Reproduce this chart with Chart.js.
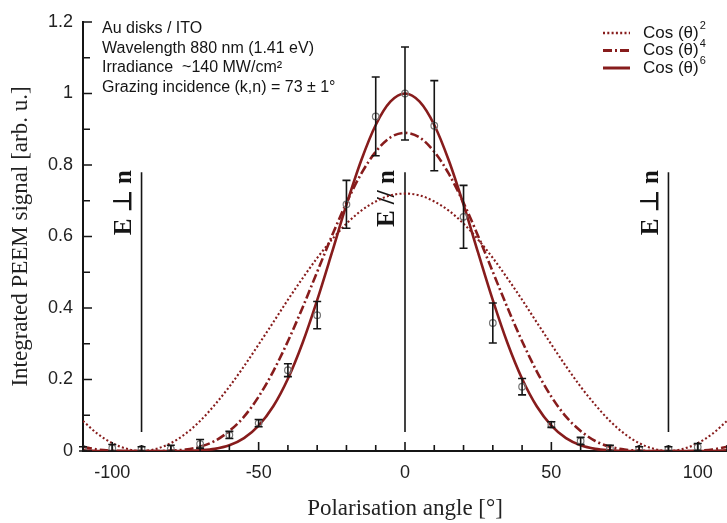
<!DOCTYPE html>
<html>
<head>
<meta charset="utf-8">
<script src="https://cdn.jsdelivr.net/npm/chart.js@4"></script>
<style>
  html, body { margin: 0; padding: 0; background: #fff; }
  canvas { display: block; }
</style>
</head>
<body>
<canvas id="peem" width="727" height="523"></canvas>
<script>
// ── Measured points (angle in deg, integrated signal, error) ─────
const ANGLES = [-110, -100, -90, -80, -70, -60, -50, -40, -30, -20, -10, 0, 10, 20, 30, 40, 50, 60, 70, 80, 90, 100];
const SIGNAL = [0.006, 0.008, 0.006, 0.006, 0.02, 0.045, 0.078, 0.226, 0.38, 0.69, 0.936, 1.0, 0.91, 0.655, 0.358, 0.18, 0.074, 0.028, 0.008, 0.006, 0.006, 0.011];
const ERR    = [0.006, 0.01, 0.006, 0.01, 0.012, 0.01, 0.01, 0.018, 0.038, 0.067, 0.11, 0.13, 0.126, 0.088, 0.056, 0.023, 0.008, 0.01, 0.008, 0.006, 0.006, 0.01];

// ── Fit curves, read every 5 deg from -110 to 110 ────────────────
const CURVE_ANGLES = [-110, -105, -100, -95, -90, -85, -80, -75, -70, -65, -60, -55, -50, -45, -40, -35, -30, -25, -20, -15, -10, -5,
  0, 5, 10, 15, 20, 25, 30, 35, 40, 45, 50, 55, 60, 65, 70, 75, 80, 85, 90, 95, 100, 105, 110];
const COS2 = [0.084, 0.048, 0.022, 0.006, 0, 0.006, 0.022, 0.048, 0.084, 0.129, 0.18, 0.237, 0.298, 0.36, 0.423, 0.483, 0.54, 0.591, 0.636, 0.672, 0.698, 0.715,
  0.72, 0.715, 0.698, 0.672, 0.636, 0.591, 0.54, 0.483, 0.423, 0.36, 0.298, 0.237, 0.18, 0.129, 0.084, 0.048, 0.022, 0.006, 0, 0.006, 0.022, 0.048, 0.084];
const COS4 = [0.012, 0.004, 0.001, 0, 0, 0, 0.001, 0.004, 0.012, 0.028, 0.056, 0.096, 0.152, 0.223, 0.307, 0.401, 0.501, 0.601, 0.694, 0.775, 0.837, 0.877,
  0.89, 0.877, 0.837, 0.775, 0.694, 0.601, 0.501, 0.401, 0.307, 0.223, 0.152, 0.096, 0.056, 0.028, 0.012, 0.004, 0.001, 0, 0, 0, 0.001, 0.004, 0.012];
const COS6 = [0.002, 0, 0, 0, 0, 0, 0, 0, 0.002, 0.006, 0.016, 0.036, 0.071, 0.125, 0.202, 0.302, 0.422, 0.554, 0.689, 0.812, 0.912, 0.977,
  1.0, 0.977, 0.912, 0.812, 0.689, 0.554, 0.422, 0.302, 0.202, 0.125, 0.071, 0.036, 0.016, 0.006, 0.002, 0, 0, 0, 0, 0, 0, 0, 0.002];

// ── Reference directions and text ────────────────────────────────
const MARKERS = [
  { angle: -90, label: 'E \u22A5 n' },
  { angle: 0,   label: 'E // n' },
  { angle: 90,  label: 'E \u22A5 n' },
];
const MARKER_RANGE = [0.053, 0.78];
const NOTES = [
  'Au disks / ITO',
  'Wavelength 880 nm (1.41 eV)',
  'Irradiance  ~140 MW/cm\u00B2',
  'Grazing incidence (k,n) = 73 \u00B1 1\u00B0',
];
const LEGEND = [
  { base: 'Cos (\u03B8)', power: '2', key: 'cos2' },
  { base: 'Cos (\u03B8)', power: '4', key: 'cos4' },
  { base: 'Cos (\u03B8)', power: '6', key: 'cos6' },
];

const RED   = '#871c1c';
const INK   = '#151515';
const SANS  = "'Liberation Sans', Arial, sans-serif";
const SERIF = "'Liberation Serif', 'Times New Roman', serif";

const STYLE = {
  cos2: { width: 2.1, dash: [2, 2.3] },
  cos4: { width: 2.6, dash: [9, 3, 2, 3] },
  cos6: { width: 2.6, dash: [] },
};

const pts = (xs, ys) => xs.map((x, i) => ({ x, y: ys[i] }));


// ── Error bars on top of the measured points ─────────────────────
const errorBars = {
  id: 'errorBars',
  afterDatasetsDraw(chart) {
    const { ctx, scales: { x, y } } = chart;
    ctx.save();
    ctx.strokeStyle = INK;
    ctx.lineWidth = 1.6;
    ANGLES.forEach((a, i) => {
      const px = x.getPixelForValue(a);
      const top = y.getPixelForValue(SIGNAL[i] + ERR[i]);
      const bot = y.getPixelForValue(Math.max(0, SIGNAL[i] - ERR[i]));
      ctx.beginPath();
      ctx.moveTo(px, top); ctx.lineTo(px, bot);
      ctx.moveTo(px - 4, top); ctx.lineTo(px + 4, top);
      ctx.moveTo(px - 4, bot); ctx.lineTo(px + 4, bot);
      ctx.stroke();
    });
    ctx.restore();
  }
};

// ── Inward ticks, E-field markers, notes and legend ──────────────
const decorations = {
  id: 'decorations',
  beforeDatasetsDraw(chart) {
    const { ctx, scales: { x, y } } = chart;
    ctx.save();
    ctx.strokeStyle = INK;
    ctx.fillStyle = INK;
    ctx.lineWidth = 1.6;
    MARKERS.forEach(m => {
      const px = x.getPixelForValue(m.angle);
      const y0 = y.getPixelForValue(MARKER_RANGE[0]);
      const y1 = y.getPixelForValue(MARKER_RANGE[1]);
      ctx.beginPath();
      ctx.moveTo(px, y0); ctx.lineTo(px, y1);
      ctx.stroke();

      ctx.save();
      ctx.translate(px - 17, y1 - 2);
      ctx.rotate(-Math.PI / 2);
      ctx.font = `bold 25px ${SERIF}`;
      ctx.textAlign = 'right';
      ctx.textBaseline = 'middle';
      ctx.fillText(m.label, 0, 0);
      ctx.restore();
    });
    ctx.restore();
  },
  afterDraw(chart) {
    const { ctx, scales: { x, y }, chartArea: area } = chart;
    ctx.save();
    ctx.strokeStyle = INK;
    ctx.lineWidth = 1.6;
    ctx.beginPath();
    x.ticks.forEach(t => {
      const px = x.getPixelForValue(t.value);
      const len = t.value % 50 === 0 ? 9 : 6;
      ctx.moveTo(px, area.bottom); ctx.lineTo(px, area.bottom - len);
    });
    y.ticks.forEach(t => {
      const py = y.getPixelForValue(t.value);
      const major = Math.abs(t.value * 5 - Math.round(t.value * 5)) < 1e-6;
      ctx.moveTo(area.left, py); ctx.lineTo(area.left + (major ? 9 : 7), py);
    });
    ctx.stroke();

    // notes, top left
    ctx.fillStyle = INK;
    ctx.font = `16px ${SANS}`;
    ctx.textAlign = 'left';
    ctx.textBaseline = 'middle';
    NOTES.forEach((s, i) => ctx.fillText(s, 102, 29 + i * 19.5));

    // legend, top right
    LEGEND.forEach((item, i) => {
      const st = STYLE[item.key];
      const ly = 33 + i * 17.5;
      ctx.strokeStyle = RED;
      ctx.lineWidth = st.width + 0.4;
      ctx.setLineDash(st.dash);
      ctx.beginPath();
      ctx.moveTo(603, ly); ctx.lineTo(630, ly);
      ctx.stroke();
      ctx.setLineDash([]);

      ctx.fillStyle = INK;
      ctx.font = `17px ${SANS}`;
      ctx.fillText(item.base, 643, ly);
      const w = ctx.measureText(item.base).width;
      ctx.font = `11px ${SANS}`;
      ctx.fillText(item.power, 643 + w + 1, ly - 7);
    });
    ctx.restore();
  }
};


// ── Chart ────────────────────────────────────────────────────────
const curve = (key, data) => ({
  label: key,
  data: pts(CURVE_ANGLES, data),
  borderColor: RED,
  borderWidth: STYLE[key].width,
  borderDash: STYLE[key].dash,
  pointRadius: 0,
  cubicInterpolationMode: 'monotone',
  fill: false,
});

new Chart(document.getElementById('peem'), {
  type: 'line',
  data: {
    datasets: [
      {
        type: 'scatter',
        label: 'measured',
        data: pts(ANGLES, SIGNAL),
        pointRadius: 3.3,
        pointBorderWidth: 1.2,
        pointBorderColor: '#777',
        pointBackgroundColor: 'rgba(255,255,255,0)',
        showLine: false,
      },
      curve('cos6', COS6),
      curve('cos4', COS4),
      curve('cos2', COS2),
    ],
  },
  options: {
    responsive: false,
    animation: false,
    devicePixelRatio: 1,
    // plot runs right up to the page edge, as in the figure
    layout: { autoPadding: false, padding: { top: 22, right: 0, left: 0, bottom: 0 } },
    plugins: {
      legend: { display: false },
      tooltip: { enabled: false },
    },
    scales: {
      x: {
        type: 'linear',
        min: -110,
        max: 110,
        // grid hidden; tickLength only pushes the labels down
        grid: { display: false, drawTicks: true, tickLength: 11 },
        border: { display: true, color: INK, width: 2 },
        ticks: {
          stepSize: 10,
          autoSkip: false,
          maxRotation: 0,
          padding: 0,
          color: '#222',
          font: { family: SANS, size: 18 },
          callback: v => (v % 50 === 0 ? String(v) : ''),
        },
        title: {
          display: true,
          text: 'Polarisation angle [\u00B0]',
          color: '#222',
          font: { family: SERIF, size: 23 },
          padding: { top: 6, bottom: 0 },
        },
        afterFit: s => { s.height = 72; s.paddingLeft = 0; s.paddingRight = 0; },
      },
      y: {
        min: 0,
        max: 1.2,
        grid: { display: false, drawTicks: false },
        border: { display: true, color: INK, width: 2 },
        ticks: {
          stepSize: 0.1,
          autoSkip: false,
          padding: 10,
          color: '#222',
          font: { family: SANS, size: 18 },
          callback: v => (Math.abs(v * 5 - Math.round(v * 5)) < 1e-6 ? String(Math.round(v * 10) / 10) : ''),
        },
        title: {
          display: true,
          text: 'Integrated PEEM signal [arb. u.]',
          color: '#222',
          font: { family: SERIF, size: 23 },
          padding: { top: 7, bottom: 0 },
        },
        afterFit: s => { s.width = 83; },
      },
    },
  },
  plugins: [errorBars, decorations],
});
</script>
</body>
</html>
